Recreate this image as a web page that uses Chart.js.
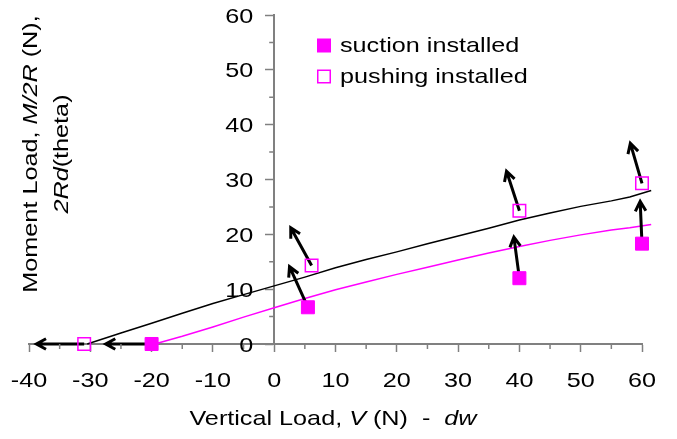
<!DOCTYPE html>
<html>
<head>
<meta charset="utf-8">
<script src="https://cdn.jsdelivr.net/npm/chart.js@4/dist/chart.umd.min.js"></script>
<style>
  body { margin: 0; background: #fff; }
  #wrap { width: 677px; height: 439px; }
</style>
</head>
<body>
<div id="wrap"><canvas id="momentChart" width="677" height="439"></canvas></div>
<script>
// data
const suctionX = [-20, 5.5, 40, 60];
const suctionY = [0, 6.7, 12.0, 18.3];
const pushingX = [-31, 6.1, 40, 60];
const pushingY = [0, 14.3, 24.3, 29.3];

// arrows: tail = marker, head = tip
const suctionTipX = [-27.5, 2.5, 39.1, 59.7];
const suctionTipY = [0, 14.1, 19.5, 26.0];
const pushingTipX = [-38.8, 2.7, 37.9, 58.1];
const pushingTipY = [0, 21.2, 31.5, 36.6];

// black curve (pushing) and magenta curve (suction)
const blackX = [-30.5, -25, -20, -15, -10, -5, 0, 5, 10, 15, 20, 25, 30, 35, 40, 45, 50, 55, 58, 61.5];
const blackY = [0, 2.0, 3.8, 5.6, 7.4, 9.0, 10.6, 12.2, 13.9, 15.4, 16.8, 18.3, 19.7, 21.1, 22.6, 23.9, 25.1, 26.1, 26.8, 28.0];
const magentaX = [-19.5, -15, -10, -5, 0, 5, 10, 15, 20, 25, 30, 35, 40, 45, 50, 55, 58, 61.5];
const magentaY = [0, 1.4, 3.1, 4.9, 6.6, 8.3, 9.9, 11.3, 12.7, 14.0, 15.3, 16.6, 17.8, 18.9, 19.9, 20.8, 21.2, 21.8];

const xTicks = [-40, -30, -20, -10, 0, 10, 20, 30, 40, 50, 60];
const yTicks = [0, 10, 20, 30, 40, 50, 60];
const xMinor = [-35, -25, -15, -5, 5, 15, 25, 35, 45, 55];
const yMinor = [5, 15, 25, 35, 45, 55];

const MAGENTA = '#ff00ff';
const AXIS = '#808080';
const SX = 1.2; // excel text is stretched sideways
const FONT_PX = 21;

function pts(xs, ys) {
  return xs.map((x, i) => ({ x: x, y: ys[i] }));
}

function fontOf(italic) {
  return (italic ? 'italic ' : '') + FONT_PX + 'px "Liberation Sans", Arial, sans-serif';
}

// draw a list of [text, italic] runs, stretched by SX
function drawRuns(ctx, runs, x, y, align, angle) {
  ctx.save();
  ctx.translate(x, y);
  if (angle) ctx.rotate(angle);
  ctx.scale(SX, 1);
  ctx.fillStyle = '#000';
  ctx.textAlign = 'left';
  ctx.textBaseline = 'alphabetic';
  let total = 0;
  runs.forEach(r => { ctx.font = fontOf(r[1]); total += ctx.measureText(r[0]).width; });
  let cx = 0;
  if (align === 'center') cx = -total / 2;
  if (align === 'right') cx = -total;
  runs.forEach(r => {
    ctx.font = fontOf(r[1]);
    ctx.fillText(r[0], cx, 0);
    cx += ctx.measureText(r[0]).width;
  });
  ctx.restore();
}

function arrow(ctx, x1, y1, x2, y2) {
  const a = Math.atan2(y2 - y1, x2 - x1);
  const len = 11, spread = 0.5;
  ctx.beginPath();
  ctx.moveTo(x1, y1);
  ctx.lineTo(x2, y2);
  ctx.moveTo(x2 - len * Math.cos(a - spread), y2 - len * Math.sin(a - spread));
  ctx.lineTo(x2, y2);
  ctx.lineTo(x2 - len * Math.cos(a + spread), y2 - len * Math.sin(a + spread));
  ctx.stroke();
}

const extras = {
  id: 'extras',
  beforeDatasetDraw(chart, args) {
    // arrows go under the markers but over the curves
    if (args.index !== 1) return;
    const ctx = chart.ctx, sx = chart.scales.x, sy = chart.scales.y;
    ctx.save();
    ctx.strokeStyle = '#000';
    ctx.lineWidth = 3;
    ctx.lineJoin = 'miter';
    ctx.lineCap = 'butt';
    suctionX.forEach((v, i) => arrow(ctx, sx.getPixelForValue(v), sy.getPixelForValue(suctionY[i]),
      sx.getPixelForValue(suctionTipX[i]), sy.getPixelForValue(suctionTipY[i])));
    pushingX.forEach((v, i) => arrow(ctx, sx.getPixelForValue(v), sy.getPixelForValue(pushingY[i]),
      sx.getPixelForValue(pushingTipX[i]), sy.getPixelForValue(pushingTipY[i])));
    ctx.restore();
  },
  afterDraw(chart) {
    const ctx = chart.ctx, sx = chart.scales.x, sy = chart.scales.y;
    const x0 = sx.getPixelForValue(0), yb = sy.getPixelForValue(0);

    // minor ticks
    ctx.save();
    ctx.strokeStyle = AXIS;
    ctx.lineWidth = 1.5;
    ctx.beginPath();
    xMinor.forEach(v => { const p = sx.getPixelForValue(v); ctx.moveTo(p, yb); ctx.lineTo(p, yb + 5); });
    yMinor.forEach(v => { const p = sy.getPixelForValue(v); ctx.moveTo(x0, p); ctx.lineTo(x0 - 5, p); });
    ctx.stroke();
    ctx.restore();

    // tick labels
    xTicks.forEach(v => drawRuns(ctx, [[String(v), false]], sx.getPixelForValue(v), yb + 43, 'center'));
    yTicks.forEach(v => drawRuns(ctx, [[String(v), false]], x0 - 21, sy.getPixelForValue(v) + 7.5, 'right'));

    // axis titles
    drawRuns(ctx, [['Vertical Load, ', false], ['V', true], [' (N)  -  ', false], ['dw', true]], 333, 425, 'center');
    drawRuns(ctx, [['Moment Load, ', false], ['M/2R', true], [' (N),', false]], 37, 154, 'center', -Math.PI / 2);
    drawRuns(ctx, [['2Rd', true], ['(theta)', false]], 68, 154, 'center', -Math.PI / 2);

    // legend
    ctx.save();
    ctx.fillStyle = MAGENTA;
    ctx.fillRect(317, 38.5, 14, 14);
    ctx.strokeStyle = MAGENTA;
    ctx.lineWidth = 1.5;
    ctx.strokeRect(317.75, 70.25, 12.5, 12.5);
    ctx.restore();
    drawRuns(ctx, [['suction installed', false]], 340, 52, 'left');
    drawRuns(ctx, [['pushing installed', false]], 340, 83, 'left');
  }
};

const ctx = document.getElementById('momentChart').getContext('2d');
new Chart(ctx, {
  type: 'scatter',
  data: {
    datasets: [
      {
        label: 'suction installed',
        data: pts(suctionX, suctionY),
        pointStyle: 'rect',
        pointRadius: 9.2,
        backgroundColor: MAGENTA,
        borderColor: MAGENTA,
        borderWidth: 1,
        clip: false
      },
      {
        label: 'pushing installed',
        data: pts(pushingX, pushingY),
        pointStyle: 'rect',
        pointRadius: 8.85,
        backgroundColor: 'rgba(0,0,0,0)',
        borderColor: MAGENTA,
        borderWidth: 1.5,
        clip: false
      },
      {
        label: 'black',
        data: pts(blackX, blackY),
        showLine: true,
        borderColor: '#000',
        borderWidth: 1.5,
        pointRadius: 0,
        tension: 0,
        clip: false
      },
      {
        label: 'magenta',
        data: pts(magentaX, magentaY),
        showLine: true,
        borderColor: MAGENTA,
        borderWidth: 1.5,
        pointRadius: 0,
        tension: 0,
        clip: false
      }
    ]
  },
  options: {
    responsive: false,
    animation: false,
    layout: { padding: { left: 29, right: 35, top: 15, bottom: 0 } },
    plugins: {
      legend: { display: false },
      tooltip: { enabled: false }
    },
    scales: {
      x: {
        type: 'linear',
        min: -40,
        max: 60,
        ticks: { display: false, stepSize: 10 },
        grid: { drawOnChartArea: false, drawTicks: true, tickLength: 8, tickColor: AXIS, tickWidth: 1.5 },
        border: { display: true, color: AXIS, width: 2 },
        afterFit: s => { s.height = 95; }
      },
      y: {
        type: 'linear',
        position: { x: 0 },
        min: 0,
        max: 60,
        ticks: { display: false, stepSize: 10 },
        grid: { drawOnChartArea: false, drawTicks: true, tickLength: 8, tickColor: AXIS, tickWidth: 1.5 },
        border: { display: true, color: AXIS, width: 2 }
      }
    }
  },
  plugins: [extras]
});
</script>
</body>
</html>
